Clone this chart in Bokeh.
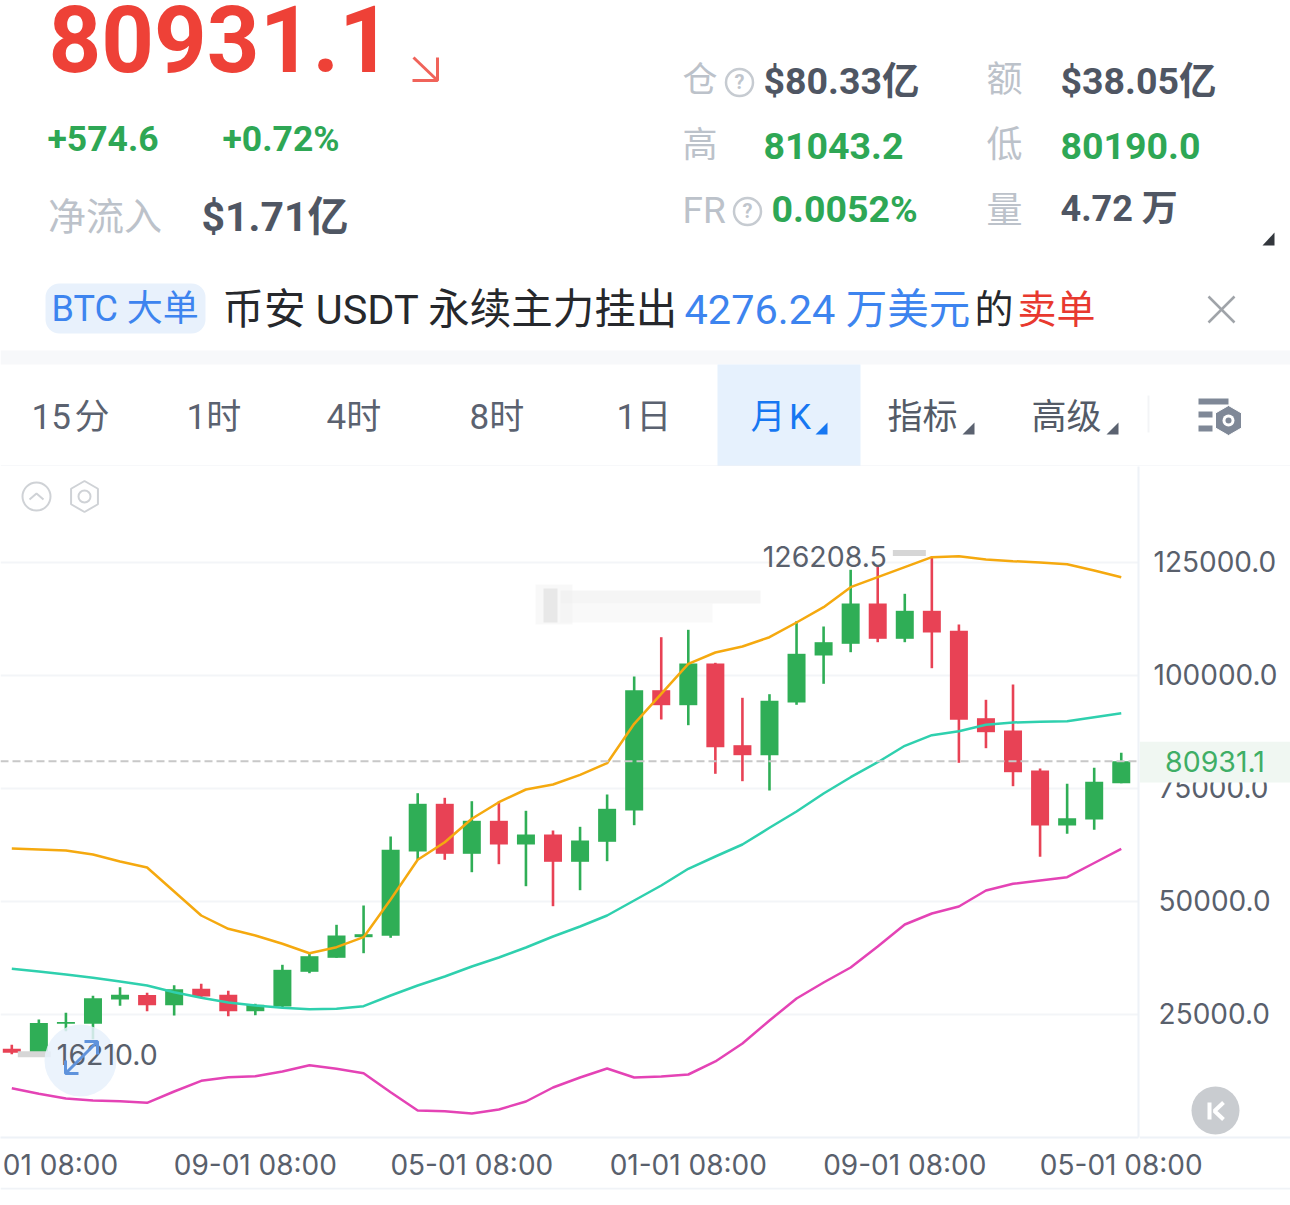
from bokeh.embed import file_html
from bokeh.resources import INLINE
from bokeh.plotting import figure
from bokeh.layouts import column
from bokeh.models import (Range1d, FixedTicker, Span, ColumnDataSource)
from bokeh.core.properties import value
import numpy as np

# ---------- data ----------
open_ = [17400,16600,22950,22910,28300,29300,27026,30652,29326,25700,26739,34408,37504,42058,42368,61003,71548,60495,67790,62551,64761,58726,63147,70067,96660,93344,102562,84502,82291,93941,104331,106917,115826,108023,114212,109791,90470,87751,78909,66751,68077,76101]
close = [16500,23100,23300,28574,29326,27026,30563,28949,25700,27115,34852,37858,42434,42721,61379,71548,60495,67790,62551,64761,58726,63435,70442,96660,93344,102562,84060,82291,94317,104707,107271,115826,108023,114212,109415,90117,87375,78533,66751,68364,76411,80931.1]
high  = [18300,23865,25346,29104,31006,29767,31449,31757,30209,27336,35957,38389,44799,49066,64319,73891,72874,72122,72056,70000,65645,66463,73604,99689,108376,110012,102717,94980,95776,111913,110742,123276,124226,117970,126208.5,111184,94538,97920,79351,75969,79506,82822]
low   = [16210,16350,21278,19510,26894,25700,24749,28662,24594,24815,26584,34100,37504,38520,41926,59168,59168,56427,58196,53332,48911,52448,58859,66817,90183,88923,78180,76544,74488,93433,98075,105060,107271,107271,101524,80611,83839,75438,59832,64916,65800,76101]
upper = [61666,61445,61224,60340,58793,57466,52161,46855,43915,42434,40599,38521,39848,42058,50392,59168,63059,68232,71901,74709,75814,77958,80523,89232,95864,102496,104994,106320,108376,111626,115008,119429,121640,123850,126061,126282,125553,125177,124889,124514,123121,121640]
middle= [35073,34476,33813,33083,32265,31381,29900,28662,27623,26960,26451,26142,26230,26805,29170,31381,33371,35581,37571,39781,42213,44424,46855,50171,53487,57179,59898,62551,66242,69845,73825,77428,80744,84369,86712,87597,89012,89520,89675,89807,90691,91576]
lower = [8678,7440,6401,5959,5804,5451,7949,10314,11110,11331,12370,13762,12967,11994,7794,3749,3594,3085,3970,5738,8833,11044,13033,11044,11265,11707,14581,18560,23644,28507,32044,35360,40002,44866,47297,48845,52382,53863,54592,55322,58461,61600]
price_ticks = [25000,50000,75000,100000,125000]
date_ticks = [1.8,9,17,25,33,41]
date_labels = ["01 08:00","09-01 08:00","05-01 08:00","01-01 08:00","09-01 08:00","05-01 08:00"]
last_price = 80931.1
max_price, max_label = 126208.5, "126208.5"
min_price, min_label = 16210.0, "16210.0"
tabs = ["15\u200a分","1时","4时","8时","1日"]
tab_menus = ["月\u200aK","指标","高级"]

FONT = "Roboto, Noto Sans CJK SC"
AXFONT = "Inter"
RED_T, GREEN_T, DARK, GRAY = "#ee4137", "#2ea755", "#4f5663", "#bcc2ca"
BLUE, UP, DOWN = "#3d84ef", "#2fae56", "#e84255"

# ---------- header ----------
W, H1, H2, H3 = 1290, 466, 721, 18
h = figure(width=W, height=H1, x_range=Range1d(0, W), y_range=Range1d(H1, 0),
           toolbar_location=None, output_backend="svg", min_border=0, outline_line_color=None)
h.axis.visible = False
h.grid.visible = False

def T(x, y, s, size, color, bold=False, align="left"):
    h.text(x=[x], y=[y - 0.365 * size], text=[s], text_font=value(FONT), text_font_size=value(f"{size}px"),
           text_color=color, text_baseline="alphabetic", text_align=align,
           text_font_style="bold" if bold else "normal")

T(48, 72, "80931.1", 92, RED_T, True)
h.multi_line(xs=[[413, 437], [437, 437, 412]], ys=[[57, 80], [57, 80, 80]], line_color="#f0635a", line_width=3)
T(47, 151, "+574.6", 35.5, GREEN_T, True)
T(222, 151, "+0.72%", 35.5, GREEN_T, True)
T(47.5, 230, "净流入", 38, GRAY)
T(201, 231, "$1.71亿", 41, DARK, True)

T(682, 93, "仓", 35, GRAY)
T(763, 94, "$80.33亿", 37.5, DARK, True)
T(986, 93, "额", 36, GRAY)
T(1060, 94, "$38.05亿", 37.5, DARK, True)
T(682, 158, "高", 35, GRAY)
T(763, 159, "81043.2", 37.5, GREEN_T, True)
T(986, 158, "低", 36, GRAY)
T(1060, 159, "80190.0", 37.5, GREEN_T, True)
T(682, 224, "FR", 37, GRAY)
T(771, 222, "0.0052%", 37.5, GREEN_T, True)
T(986, 224, "量", 36, GRAY)
T(1060, 222, "4.72 万", 36, DARK, True)
for cx, cy in [(739, 82), (747, 211)]:
    h.circle(x=[cx], y=[cy], radius=13.5, fill_color=None, line_color="#c6cbd1", line_width=2.5)
    T(cx, cy + 7, "?", 20, "#c0c5cc", True, "center")
h.patch(x=[1262, 1274, 1274], y=[245, 245, 232], fill_color="#33373d", line_color=None)

h.quad(left=[0], right=[W], top=[350], bottom=[364], fill_color="#f7f8fa", line_color=None)
h.quad(left=[45], right=[205], top=[283], bottom=[333], fill_color="#e8f1fc", line_color=None, border_radius=14)
T(51, 322, "BTC 大单", 36, BLUE)
T(222, 324, "币安 USDT 永续主力挂出", 41.5, "#26282c")
T(684, 324, "4276.24 万美元", 41.5, BLUE)
T(974, 324, "的", 39, "#26282c")
T(1017, 324, "卖单", 39, "#e8392f")
h.multi_line(xs=[[1208, 1234], [1234, 1208]], ys=[[296, 322], [296, 322]], line_color="#a0a4a9", line_width=2.5)

h.quad(left=[717], right=[860], top=[364], bottom=[466], fill_color="#e6f1fd", line_color=None)
h.quad(left=[0], right=[W], top=[465], bottom=[466.5], fill_color="#f0f2f5", line_color=None)
for x, s in zip([31, 186, 326, 469, 616], tabs):
    T(x, 430, s, 35, "#5b6270")
T(750, 430, tab_menus[0], 35, "#1677f2")
T(887, 430, tab_menus[1], 35, "#545b67")
T(1031, 430, tab_menus[2], 35, "#545b67")
for x0, c_ in [(815, "#1677f2"), (962, "#5b6270"), (1106, "#5b6270")]:
    h.patch(x=[x0, x0 + 12, x0 + 12], y=[434, 434, 422], fill_color=c_, line_color=None)
h.quad(left=[1147], right=[1149], top=[395], bottom=[432], fill_color="#f3f4f6", line_color=None)
h.quad(left=[1198, 1198, 1198], right=[1228, 1212, 1212], top=[398, 411, 425], bottom=[404, 417, 431],
       fill_color="#7f8897", line_color=None)
h.scatter(x=[1228], y=[420], size=30, marker="hex", angle=np.pi / 2, fill_color="#7f8897", line_color="white", line_width=1)
h.circle(x=[1228], y=[420], radius=6, fill_color="white", line_color=None)
h.circle(x=[1228], y=[420], radius=3, fill_color="#7f8897", line_color=None)

# ---------- chart ----------
x_per_i = 27.06
x0_px = 11.3
frame_w, frame_h = 1138, 671
v_per_px = 221.06
def price_at(y_px):
    return 125000 - (y_px - 561.5) * v_per_px
idx = list(range(len(close)))
c = figure(width=W, height=H2,
           x_range=Range1d(-x0_px / x_per_i, (frame_w - x0_px) / x_per_i),
           y_range=Range1d(price_at(1137), price_at(466)),
           y_axis_location="right", toolbar_location=None, output_backend="svg",
           min_border=0, min_border_right=W - frame_w, min_border_bottom=H2 - frame_h,
           outline_line_color=None)
c.extra_x_ranges = {"px": Range1d(0, frame_w)}
c.extra_y_ranges = {"px": Range1d(1137, 466)}

c.yaxis.ticker = FixedTicker(ticks=price_ticks)
# shorter labels start a little further in, so that all of them sit centred on the same line
c.yaxis.major_label_overrides = {t: ("\u2009" if t < 100000 else "") + f"{t:.1f}" for t in price_ticks}
c.xaxis.ticker = FixedTicker(ticks=date_ticks)
c.xaxis.major_label_overrides = dict(zip(date_ticks, date_labels))
for ax in (c.xaxis[0], c.yaxis[0]):
    ax.major_tick_line_color = None
    ax.minor_tick_line_color = None
    ax.major_label_text_font = AXFONT
    ax.major_label_text_font_size = "28px"
    ax.major_label_text_color = "#59606c"
    ax.axis_line_color = "#eef2f7"
    ax.axis_line_width = 2
c.yaxis[0].major_label_standoff = 9
c.xaxis[0].major_label_standoff = 4
c.xgrid.visible = False
c.ygrid.grid_line_color = "#f3f5f8"
c.ygrid.grid_line_width = 2

colors = [UP if b >= a else DOWN for a, b in zip(open_, close)]
src = ColumnDataSource(dict(i=idx, o=open_, c=close, h=high, l=low, col=colors))

# watermark blur
c.quad(left=[535, 543, 560, 560], right=[572, 557, 760, 712], top=[584, 588, 590, 603], bottom=[624, 622, 603, 622],
       fill_color=["#e8e8e8", "#d4d4d4", "#ececec", "#f1f1f1"], fill_alpha=[0.3, 0.45, 0.55, 0.45],
       line_color=None, x_range_name="px", y_range_name="px")

c.segment(x0="i", y0="l", x1="i", y1="h", line_color="col", line_width=2.6, source=src)
c.vbar(x="i", bottom="o", top="c", width=18 / x_per_i, fill_color="col", line_color=None, source=src)
c.line(idx, upper, line_color="#f5a90f", line_width=2.5)
c.line(idx, middle, line_color="#2fd0ae", line_width=2.5)
c.line(idx, lower, line_color="#e443b5", line_width=2.5)

c.add_layout(Span(location=last_price, dimension="width", line_color="#c8c8c8", line_width=2, line_dash="8 4", level="overlay"))

# max / min markers
i_max, i_min = high.index(max_price), low.index(min_price)
c.segment(x0=[i_max - 39 / x_per_i], y0=[max_price + 800], x1=[i_max - 6 / x_per_i], y1=[max_price + 800],
          line_color="#d6d6d6", line_width=6)
c.text(x=[i_max - 45 / x_per_i], y=[max_price], text=[max_label], text_font=value(AXFONT), text_font_size=value("28.5px"),
       text_color="#59606c", text_align="right", text_baseline="middle")
c.segment(x0=[i_min + 6 / x_per_i], y0=[min_price], x1=[i_min + 39 / x_per_i], y1=[min_price],
          line_color="#d6d6d6", line_width=6)
c.circle(x=[80], y=[1060], radius=36, fill_color="#e8f1fc", fill_alpha=0.85, line_color=None, x_range_name="px", y_range_name="px")
c.text(x=[i_min + 45 / x_per_i], y=[min_price], text=[min_label], text_font=value(AXFONT), text_font_size=value("28.5px"),
       text_color="#59606c", text_align="left", text_baseline="middle")
c.multi_line(xs=[[66, 96], [84, 97, 97], [65, 65, 78]], ys=[[1072, 1042], [1041, 1041, 1054], [1060, 1073, 1073]],
             line_color="#5f93dc", line_width=3, x_range_name="px", y_range_name="px")

# top-left icons
c.circle(x=[36], y=[496], radius=14, fill_color=None, line_color="#cfd2d6", line_width=2, x_range_name="px", y_range_name="px")
c.line(x=[29, 36, 43], y=[499, 493, 499], line_color="#cfd2d6", line_width=2, x_range_name="px", y_range_name="px")
c.scatter(x=[84], y=[496], size=31, marker="hex", angle=np.pi / 2, fill_color=None, line_color="#cfd2d6", line_width=2,
          x_range_name="px", y_range_name="px")
c.circle(x=[84], y=[496], radius=6, fill_color=None, line_color="#cfd2d6", line_width=2, x_range_name="px", y_range_name="px")

# ---------- footer rule ----------
f = figure(width=W, height=H3, x_range=Range1d(0, W), y_range=Range1d(H3, 0), toolbar_location=None,
           output_backend="svg", min_border=0, outline_line_color=None)
f.axis.visible = False
f.grid.visible = False
f.quad(left=[0], right=[W], top=[0], bottom=[2], fill_color="#f0f3f7", line_color=None)

# ---------- overlay over the price axis: last-price tag, collapse button, axis base line ----------
ov_top, ov_bottom = 741, 1139
o = figure(width=W - 1139, height=ov_bottom - ov_top, x_range=Range1d(1139, W),
           y_range=Range1d(price_at(ov_bottom), price_at(ov_top)), toolbar_location=None,
           output_backend="svg", min_border=0, outline_line_color=None,
           background_fill_color=None, border_fill_color=None)
o.extra_y_ranges = {"px": Range1d(ov_bottom, ov_top)}
o.axis.visible = False
o.grid.visible = False
o.styles = {"position": "absolute", "left": "1139px", "top": f"{ov_top}px"}
o.quad(left=[1139], right=[W], top=[741], bottom=[782], fill_color="#f0f7f2", line_color=None, y_range_name="px")
o.text(x=[1214.5], y=[last_price], text=[f"{last_price:.1f}"], text_font=value(AXFONT), text_font_size=value("28.5px"),
       text_color="#3fae66", text_align="center", text_baseline="middle")
o.quad(left=[1139], right=[W], top=[1136], bottom=[1138], fill_color="#eef2f7", line_color=None, y_range_name="px")
o.circle(x=[1215], y=[1110], radius=24, fill_color="#c9ccd0", line_color=None, y_range_name="px")
o.line(x=[1209, 1209], y=[1102, 1119], line_color="white", line_width=4, y_range_name="px")
o.line(x=[1223, 1214, 1223], y=[1102, 1110.5, 1119], line_color="white", line_width=4, y_range_name="px")

page = column(column(h), column(c), column(f), o, spacing=0)
open("out.html", "w").write(file_html(page, INLINE))
